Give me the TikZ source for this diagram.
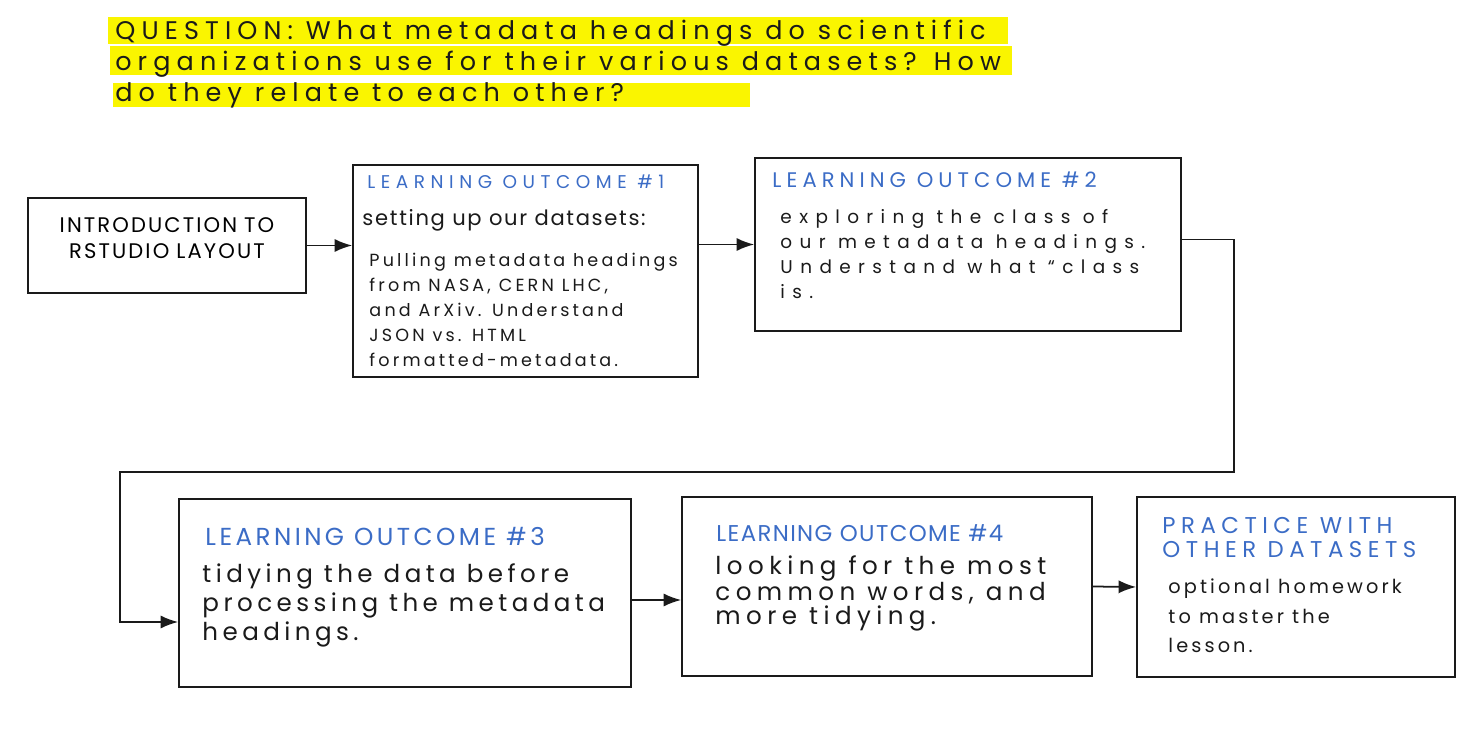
\documentclass[tikz,border=0pt]{standalone}
\usepackage{fontspec}
\setmainfont{Poppins}
\usetikzlibrary{arrows.meta,positioning,fit}
\definecolor{ink}{HTML}{1A1A1A}
\definecolor{hl}{HTML}{FAF500}
\definecolor{lo}{HTML}{3B6CC6}
% hand-lettering size and tracking
\newcommand{\hw}[3]{\fontsize{#1}{#2}\selectfont\addfontfeature{LetterSpace=#3}}
\tikzset{
  box/.style={draw=ink,line width=1pt,inner sep=0pt},
  link/.style={ink,line width=1pt,-{Latex[length=10pt,width=7.5pt]}},
  txt/.style={anchor=north west,inner sep=0pt,align=left,text=ink},
  head/.style={txt,text=lo},
}
\begin{document}
\begin{tikzpicture}[x=0.02cm,y=-0.02cm]
  \useasboundingbox (0,0) rectangle (1466,746);
  % question, highlighted
  \fill[hl] (108,17) rectangle (1008,44);
  \fill[hl] (110,46) rectangle (1012,75);
  \fill[hl] (113,83) rectangle (750,107);
  \node[txt,font=\hw{14.5}{17.6}{24}] (question) at (115,20)
    {QUESTION: What metadata headings do scientific\\
     organizations use for their various datasets? How\\
     do they relate to each other?};
  % boxes
  \node[box,fit={(28,198) (306,293)},align=center,font=\hw{12}{14.5}{10}] (intro)
    {INTRODUCTION TO\\RSTUDIO LAYOUT};
  \node[box,fit={(353,165) (698,377)}] (lo1) {};
  \node[box,fit={(755,158) (1181,331)}] (lo2) {};
  \node[box,fit={(179,499) (631,687)}] (lo3) {};
  \node[box,fit={(682,497) (1092,676)}] (lo4) {};
  \node[box,fit={(1137,497) (1455,677)}] (prac) {};
  % texts in the boxes
  \node[head,font=\hw{10.5}{13}{30}] (lo1h) at ([shift={(15,10)}]lo1.north west)
    {LEARNING OUTCOME \#1};
  \node[txt,font=\hw{12}{14}{8}] (lo1a) at ([shift={(10,45)}]lo1.north west)
    {setting up our datasets:};
  \node[txt,font=\hw{10}{14.2}{18}] (lo1b) at ([shift={(17,89)}]lo1.north west)
    {Pulling metadata headings\\from NASA, CERN LHC,\\and ArXiv. Understand\\JSON vs. HTML\\formatted-metadata.};
  \node[head,font=\hw{12}{14}{24}] (lo2h) at ([shift={(18,14)}]lo2.north west)
    {LEARNING OUTCOME \#2};
  \node[txt,font=\hw{10.5}{14.2}{40}] (lo2b) at ([shift={(26,52)}]lo2.north west)
    {exploring the class of\\our metadata headings.\\Understand what “class\\is.};
  \node[head,font=\hw{14}{16}{14}] (lo3h) at ([shift={(27,29)}]lo3.north west)
    {LEARNING OUTCOME \#3};
  \node[txt,font=\hw{14}{16.6}{18}] (lo3b) at ([shift={(24,65)}]lo3.north west)
    {tidying the data before\\processing the metadata\\headings.};
  \node[head,font=\hw{13}{15}{6}] (lo4h) at ([shift={(35,28)}]lo4.north west)
    {LEARNING OUTCOME \#4};
  \node[txt,font=\hw{14}{13.6}{22}] (lo4b) at ([shift={(34,59)}]lo4.north west)
    {looking for the most\\common words, and\\more tidying.};
  \node[head,font=\hw{13}{13.6}{24}] (prach) at ([shift={(26,21)}]prac.north west)
    {PRACTICE WITH\\OTHER DATASETS};
  \node[txt,font=\hw{11}{17}{16}] (pracb) at ([shift={(32,82)}]prac.north west)
    {optional homework\\to master the\\lesson.};
  % connectors
  \draw[link] (intro.east) -- (intro.east -| lo1.west);
  \draw[link] (lo1.east |- lo2.west) -- (lo2.west);
  \coordinate (turnA) at (1234,472);
  \coordinate (turnB) at (120,472);
  \draw[link] ([yshift=0.1cm]lo2.east) -| (turnA) -- (turnB) |- ([yshift=-0.58cm]lo3.west);
  \draw[link] ([yshift=-0.14cm]lo3.east) -- ([yshift=-0.14cm]lo3.east -| lo4.west);
  \draw[link] (lo4.east) -- (prac.west);
\end{tikzpicture}
\end{document}
